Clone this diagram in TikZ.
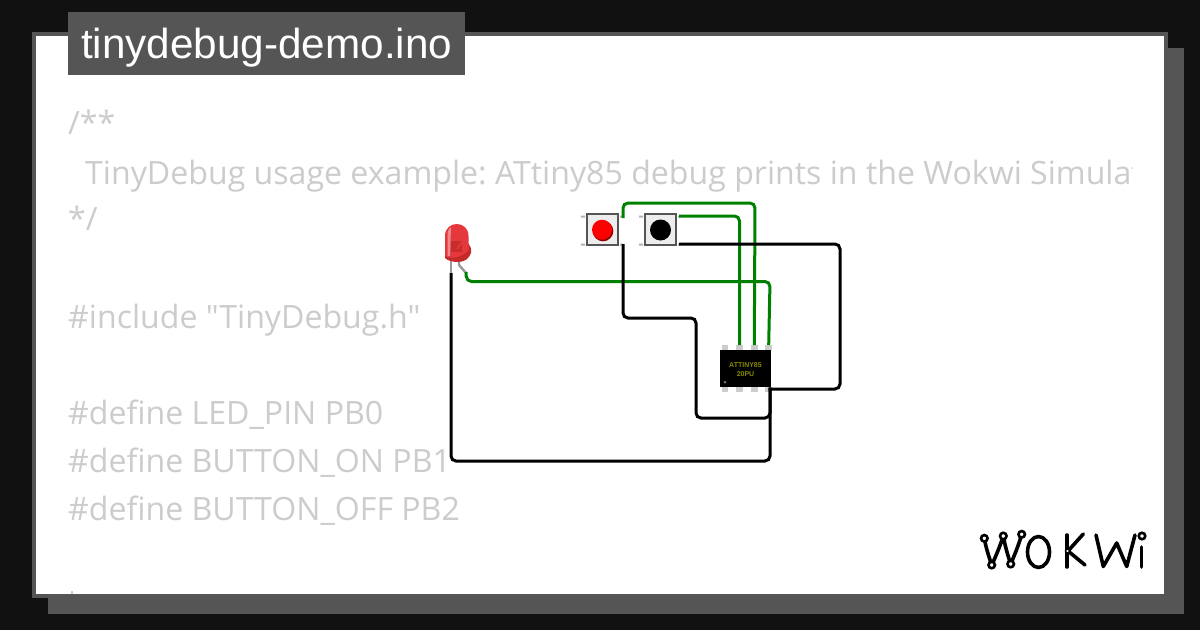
\documentclass[tikz,border=0pt]{standalone}
\usepackage{fontspec}
\setmainfont{Liberation Sans}
\newfontfamily\codefont{Open Sans}
\usetikzlibrary{calc}
\frenchspacing
\definecolor{bgdark}{HTML}{111111}
\definecolor{panelgray}{HTML}{555555}
\definecolor{codegray}{HTML}{CCCCCC}
\definecolor{wiregreen}{HTML}{008000}
\definecolor{chiptext}{HTML}{8A8A00}
\definecolor{ledred}{HTML}{E5383D}
\definecolor{leddark}{HTML}{C42A2A}
\tikzset{
  x=1pt,y=-1pt,
  wire/.style={line width=3pt,rounded corners=5pt,line cap=butt},
  greenwire/.style={wire,draw=wiregreen},
  blackwire/.style={wire,draw=black},
  codeline/.style={anchor=base west,inner sep=0pt,text=codegray,font=\codefont\fontsize{32.1}{32}\selectfont},
  pinbox/.style={fill=codegray,draw=none,minimum width=6.5pt,minimum height=5pt,inner sep=0pt},
  btnbody/.style={draw=panelgray,line width=2.2pt,fill=black!7,minimum width=31pt,minimum height=31pt,inner sep=0pt},
  logoline/.style={line width=3.6pt,line cap=round,line join=round,draw=black},
  logodot/.style={circle,draw=black,line width=2.6pt,fill=white,minimum size=6.5pt,inner sep=0pt},
  leadline/.style={draw=black!40,line width=2.4pt},
}
\begin{document}
\begin{tikzpicture}
\useasboundingbox (0,0) rectangle (1200,630);
\fill[bgdark] (0,0) rectangle (1200,630);
\fill[panelgray] (48,48) rectangle (1184,614);
\fill[panelgray] (32,32) rectangle (1168,598);
\fill[white] (36,36) rectangle (1164,594);
% code text
\begin{scope}
\clip (68,90) rectangle (1132,594);
\node[codeline] (c1) at (68,134) {/**};
\node[codeline] (c2) at (85,184) {TinyDebug usage example: ATtiny85 debug prints in the Wokwi Simulator};
\node[codeline] (c3) at (68,230) {*/};
\node[codeline] (c4) at (68,328) {\#include "TinyDebug.h"};
\node[codeline] (c5) at (68,424) {\#define LED\_PIN PB0};
\node[codeline] (c6) at (68,472) {\#define BUTTON\_ON PB1};
\node[codeline] (c7) at (68,520) {\#define BUTTON\_OFF PB2};
\fill[codegray] (71,591) rectangle (73,594);
\end{scope}
% title
\fill[panelgray] (68,12) rectangle (465,75);
\node[anchor=base west,inner sep=0pt,text=white,font=\fontsize{42}{42}\selectfont] (title) at (81,58) {\scalebox{1.006}[1]{tinydebug-demo.ino}};
% LED
\draw[leadline] (451,261) -- (451,273);
\draw[leadline] (459,262) -- (459,265) -- (466,273);
\fill[leddark] (445,256) -- (466,242) .. controls (470,244) and (472,249) .. (471,253) .. controls (469,259) and (464,262) .. (458,262) .. controls (453,262) and (448,261) .. (445,258) -- cycle;
\fill[ledred] (445,256) -- (445,236) .. controls (445,220) and (468.5,220) .. (468.5,236) -- (468.5,250) .. controls (462,258) and (451,259) .. (445,256) -- cycle;
\fill[leddark!85!ledred] (451,241) -- (462,241) -- (462,252) -- (451,252) -- cycle;
\fill[ledred] (456,249) -- (461,242) -- (462,242) -- (462,243.5) -- (458,249) -- cycle;
\fill[ledred!60!white] (447.5,256) -- (447.5,235) .. controls (447.5,231) and (449,228) .. (451,227) -- (450,256) -- cycle;
\coordinate (ledA) at (466,272);
\coordinate (ledC) at (451,273);
% buttons
\fill[black!30] (581,215.5) rectangle (585,217.5) (581,243.5) rectangle (585,245.5) (639,215.5) rectangle (643,217.5) (639,243.5) rectangle (643,245.5);
\fill[black!30] (620,215.5) rectangle (623,217.5) (620,243.5) rectangle (623,245.5) (678,215.5) rectangle (680,217.5) (678,243.5) rectangle (680,245.5);
\node[btnbody] (btnR) at (602.5,229.5) {};
\node[btnbody] (btnB) at (660.5,229.5) {};
\fill[red!55!black] (603,231) circle (10.3);
\fill[red] (602,229.7) circle (10);
\fill[black] (660.5,230) circle (10.5);
\coordinate (rTop) at (623,218);
\coordinate (rBot) at (623,244);
\coordinate (bTop) at (679,216);
\coordinate (bBot) at (679,244);
% chip
\node[fill=black,minimum width=51pt,minimum height=37pt,inner sep=0pt] (chip) at (745.5,368.5) {};
\node[inner sep=0pt,align=center,text=chiptext,font=\fontsize{7}{9}\selectfont\bfseries] (chiplabel) at (745.5,369.3) {ATTINY85\\20PU};
\fill[black!55] (725,382) circle (1.5);
\node[pinbox] (t1) at (725,347.7) {};
\node[pinbox] (t2) at (739.7,347.7) {};
\node[pinbox] (t3) at (754.3,347.7) {};
\node[pinbox] (t4) at (768.7,347.7) {};
\node[pinbox] (b1) at (725,389.7) {};
\node[pinbox] (b2) at (739.7,389.7) {};
\node[pinbox] (b3) at (754.3,389.7) {};
\node[pinbox] (b4) at (768.7,389.7) {};
% wires
\draw[greenwire] (rTop) -- (623,203) -- (755,203) -- (t3.north);
\draw[greenwire] (bTop) -- (739.5,216) -- (t2.north);
\draw[greenwire] (ledA) -- (466.5,281.5) -- (770,281.5) -- (t4.north);
\draw[blackwire] (bBot) -- (840,244) -- (840,389) -- (768.5,389);
\draw[blackwire] (rBot) -- (623,318) -- (696,318) -- (696,418) -- (770,418) -- (770,387.5);
\draw[blackwire] (ledC) -- (451,461) -- (770,461) -- (770,387.5);
% logo
\draw[logoline] (984.3,538.3) .. controls (986,548) and (989,557) .. (991.7,565) .. controls (996,556) and (1000,546) .. (1003.3,536) .. controls (1005,546) and (1008,556) .. (1010.7,564) .. controls (1015,554) and (1019,544) .. (1021.7,534.3);
\node[logodot] (w1) at (984.3,538.3) {};
\node[logodot] (w2) at (1003.3,536) {};
\node[logodot] (w3) at (1021.7,534.3) {};
\node[logodot] (w4) at (991.7,565) {};
\node[logodot] (w5) at (1010.7,564) {};
\draw[logoline] (1038.5,552) ellipse [x radius=11,y radius=15.5];
\draw[logoline] (1066.7,535) -- (1066.7,567);
\draw[logoline] (1083.3,534) -- (1068,551) -- (1085,565);
\node[logodot,minimum size=4pt,line width=1.5pt] (k1) at (1067.5,551) {};
\draw[logoline] (1096,535) -- (1103.3,566.5) -- (1116.7,543) -- (1126.7,566.5) -- (1135,535);
\draw[logoline] (1141.3,547) -- (1141.3,567);
\node[logodot] (i1) at (1142,536) {};
\end{tikzpicture}
\end{document}
